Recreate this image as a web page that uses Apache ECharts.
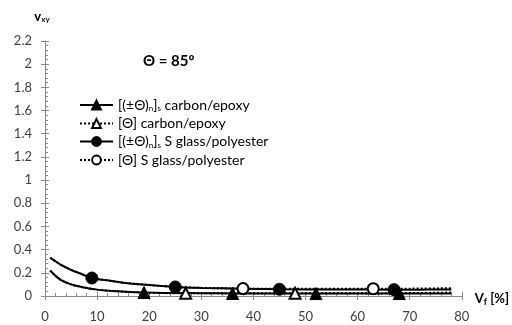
<!DOCTYPE html>
<html>
<head>
<meta charset="utf-8">
<script src="https://cdn.jsdelivr.net/npm/echarts@6/dist/echarts.min.js"></script>
<style>
  html, body { margin: 0; padding: 0; background: #fff; }
  #chart { width: 512px; height: 325px; }
</style>
</head>
<body>
<div id="chart"></div>
<script>
// values (Vf in %, vxy)
const vfCarbonSolid = [1, 2, 3, 5, 7, 10, 14, 19, 25, 30, 36, 45, 52, 60, 68, 74, 78]
const nuCarbonSolid = [0.22, 0.175, 0.14, 0.1, 0.078, 0.055, 0.04, 0.03, 0.026, 0.024, 0.022, 0.022, 0.021, 0.021, 0.021, 0.022, 0.022]
const markCarbonSolid = [19, 36, 52, 68]

const vfCarbonDot = [1, 2, 3, 5, 7, 10, 14, 20, 27, 36, 48, 60, 70, 78]
const nuCarbonDot = [0.22, 0.175, 0.14, 0.1, 0.078, 0.055, 0.04, 0.028, 0.024, 0.024, 0.024, 0.024, 0.025, 0.03]
const markCarbonDot = [27, 48]

const vfGlassSolid = [1, 2, 3, 5, 7, 9, 12, 15, 20, 25, 30, 38, 45, 55, 67, 72, 78]
const nuGlassSolid = [0.33, 0.3, 0.27, 0.225, 0.19, 0.155, 0.135, 0.115, 0.095, 0.078, 0.07, 0.063, 0.058, 0.056, 0.055, 0.055, 0.056]
const markGlassSolid = [9, 25, 45, 67]

const vfGlassDot = [1, 2, 3, 5, 7, 9, 12, 15, 20, 25, 30, 38, 45, 55, 63, 72, 78]
const nuGlassDot = [0.33, 0.3, 0.27, 0.225, 0.19, 0.155, 0.135, 0.115, 0.095, 0.078, 0.07, 0.064, 0.062, 0.062, 0.063, 0.064, 0.068]
const markGlassDot = [38, 63]

const seriesNames = ['cs', 'cd', 'gs', 'gd']
const legendLabels = {
  cs: '{t|[(±Θ)}{sub|n}{t|]}{sub|s}{t| carbon/epoxy}',
  cd: '{t|[Θ] carbon/epoxy}',
  gs: '{t|[(±Θ)}{sub|n}{t|]}{sub|s}{t| S glass/polyester}',
  gd: '{t|[Θ] S glass/polyester}'
}

function points (xs, ys, marks) {
  return xs.map((x, i) => {
    let item = { value: [x, ys[i]] }
    if (marks.indexOf(x) < 0) item.symbol = 'none'
    return item
  })
}

function lineSeries (name, xs, ys, marks, symbol, size, dotted) {
  return {
    name: name,
    type: 'line',
    smooth: 0.4,
    data: points(xs, ys, marks),
    symbol: symbol,
    symbolSize: size,
    showAllSymbol: true,
    lineStyle: { color: '#000', width: 2, type: dotted ? 'dotted' : 'solid' },
    itemStyle: { color: '#000', borderColor: '#000', borderWidth: 1 },
    emphasis: { disabled: true },
    z: dotted ? 3 : 2
  }
}

const fontFam = 'Lato'
const axisGray = '#8a8a8a'
const labelGray = '#404040'

let myChart = echarts.init(document.getElementById('chart'), null, { renderer: 'canvas' })
myChart.setOption({
  animation: false,
  backgroundColor: '#fff',
  textStyle: { fontFamily: fontFam },
  title: {
    text: 'Θ = 85º',
    left: 138,
    top: 49,
    textStyle: { fontSize: 15, fontWeight: 'bold', color: '#000', fontFamily: fontFam }
  },
  legend: {
    orient: 'vertical',
    left: 74,
    top: 93,
    itemGap: 4,
    itemWidth: 33,
    itemHeight: 11,
    data: seriesNames,
    formatter: name => legendLabels[name],
    textStyle: {
      color: '#000',
      rich: {
        t: { fontSize: 14, color: '#000', fontFamily: fontFam, lineHeight: 15 },
        sub: { fontSize: 8, color: '#000', fontFamily: fontFam, lineHeight: 15, verticalAlign: 'bottom', padding: [6, 0, 0, 0] }
      }
    }
  },
  grid: { left: 45, right: 50, top: 41, bottom: 29 },
  xAxis: [
    {
      type: 'value',
      min: 0,
      max: 80,
      interval: 10,
      name: 'V{sub|f} [%]',
      nameLocation: 'end',
      nameGap: 13,
      nameTextStyle: {
        rich: {
          sub: { fontSize: 9, fontWeight: 'bold', color: '#000', verticalAlign: 'bottom', padding: [6, 0, 0, 0] }
        },
        fontSize: 13,
        fontWeight: 'bold',
        color: '#000',
        padding: [6, 0, 0, 0]
      },
      axisLine: { lineStyle: { color: axisGray, width: 1 } },
      axisTick: { inside: true, length: 4, lineStyle: { color: axisGray } },
      minorTick: { show: true, splitNumber: 5, length: 3, lineStyle: { color: axisGray } },
      axisLabel: { color: labelGray, fontSize: 13, margin: 14 },
      splitLine: { show: false }
    },
    {
      type: 'value',
      min: 0,
      max: 80,
      interval: 10,
      position: 'bottom',
      axisLine: { show: false },
      axisTick: { inside: false, length: 4, lineStyle: { color: axisGray } },
      axisLabel: { show: false },
      splitLine: { show: false }
    }
  ],
  yAxis: [
    {
      type: 'value',
      min: 0,
      max: 2.2,
      interval: 0.2,
      name: 'v{sub|xy}',
      nameLocation: 'end',
      nameGap: 18,
      nameTextStyle: {
        align: 'center',
        fontSize: 13,
        fontWeight: 'bold',
        color: '#000',
        padding: [0, 6, 0, 0],
        rich: {
          sub: { fontSize: 8, fontWeight: 'bold', color: '#000', verticalAlign: 'bottom', padding: [5, 0, 0, 0] }
        }
      },
      axisLine: { show: true, lineStyle: { color: axisGray, width: 1 } },
      axisTick: { show: true, inside: true, length: 4, lineStyle: { color: axisGray } },
      minorTick: { show: true, splitNumber: 5, length: 3, lineStyle: { color: axisGray } },
      axisLabel: { color: labelGray, fontSize: 13, margin: 13 },
      splitLine: { show: false }
    },
    {
      type: 'value',
      min: 0,
      max: 2.2,
      interval: 0.2,
      position: 'left',
      axisLine: { show: false },
      axisTick: { show: true, inside: false, length: 4, lineStyle: { color: axisGray } },
      axisLabel: { show: false },
      splitLine: { show: false }
    }
  ],
  series: [
    lineSeries('cs', vfCarbonSolid, nuCarbonSolid, markCarbonSolid, 'triangle', 12, false),
    lineSeries('cd', vfCarbonDot, nuCarbonDot, markCarbonDot, 'emptyTriangle', 11, true),
    lineSeries('gs', vfGlassSolid, nuGlassSolid, markGlassSolid, 'circle', 12, false),
    lineSeries('gd', vfGlassDot, nuGlassDot, markGlassDot, 'emptyCircle', 11, true)
  ]
})
</script>
</body>
</html>
